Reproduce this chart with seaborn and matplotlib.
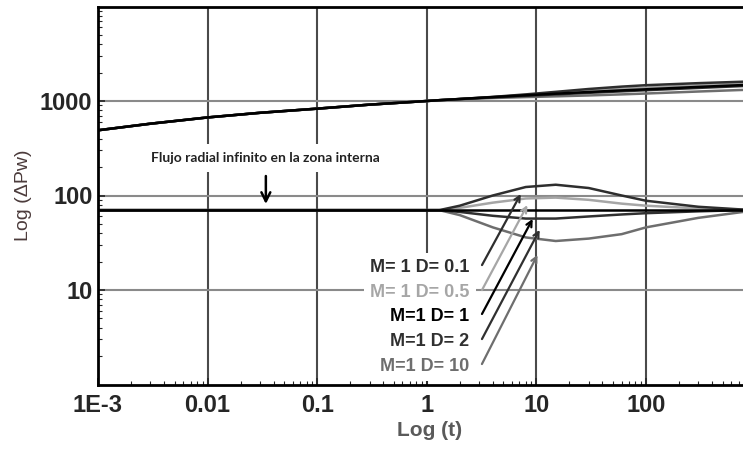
import numpy as np
import pandas as pd
import matplotlib
matplotlib.use("Agg")
import matplotlib.pyplot as plt
import seaborn as sns

# ---- data ----
labels = ["M= 1 D= 0.1", "M= 1 D= 0.5", "M=1 D= 1", "M=1 D= 2", "M=1 D= 10"]
colors = ["#2e2e2e", "#a6a6a6", "#000000", "#303030", "#6e6e6e"]

# pressure (shared early-time part)
t_early = [0.001, 0.003, 0.01, 0.03, 0.1, 0.3, 1.0]
p_early = [490, 575, 670, 750, 830, 915, 1000]

# late-time part, one curve per case
t_late = [1.3, 2, 4, 8, 15, 30, 60, 100, 300, 767]
p_late = [
    [1020, 1050, 1105, 1175, 1250, 1340, 1420, 1470, 1545, 1600],
    [1020, 1050, 1100, 1160, 1220, 1290, 1350, 1390, 1470, 1530],
    [1020, 1050, 1100, 1150, 1195, 1245, 1295, 1330, 1410, 1475],
    [1020, 1048, 1092, 1135, 1175, 1220, 1265, 1300, 1375, 1440],
    [1020, 1045, 1075, 1100, 1120, 1145, 1175, 1200, 1260, 1310],
]

# derivative (flat radial flow then deviation)
t_flat = [0.001, 1.3]
d_flat = [70, 70]
d_late = [
    [70, 78, 100, 123, 130, 120, 100, 88, 76, 71],
    [70, 74, 84, 93, 95, 90, 82, 78, 73, 71],
    [70, 70, 70, 70, 70, 70, 70, 70, 70, 70],
    [70, 67, 61, 57, 57, 60, 63, 65, 68, 70],
    [70, 62, 46, 36, 33, 35, 39, 46, 58, 67],
]

rows = []
for lab, pl, dl in zip(labels, p_late, d_late):
    for t, p in zip(t_early + t_late, p_early + pl):
        rows.append({"t": t, "val": p, "case": lab, "kind": "p"})
    for t, d in zip(t_flat + t_late[1:], d_flat + dl[1:]):
        rows.append({"t": t, "val": d, "case": lab, "kind": "d"})
df = pd.DataFrame(rows)

sns.set_style("white")
plt.rcParams["font.family"] = ["Liberation Sans", "DejaVu Sans"]

fig = plt.figure(figsize=(7.43, 4.51), dpi=100)
ax = fig.add_axes([98 / 743, 1 - 384.5 / 451, 1 - 98 / 743, 378 / 451])

pal = dict(zip(labels, colors))
order = [1, 4, 3, 0, 2]  # draw black last
for i in order:
    lab = labels[i]
    for kind in ["p", "d"]:
        sub = df[(df["case"] == lab) & (df["kind"] == kind)]
        sns.lineplot(data=sub, x="t", y="val", color=pal[lab], lw=1.8, ax=ax,
                     legend=False, sort=False)

ax.set_xscale("log")
ax.set_yscale("log")
ax.set_xlim(1e-3, 767)
ax.set_ylim(1, 10000)

# grid only at decades
for x in [0.01, 0.1, 1, 10, 100]:
    ax.axvline(x, color="#4a4a4a", lw=1.5, zorder=0)
for y in [10, 100, 1000]:
    ax.axhline(y, color="#8a8a8a", lw=1.5, zorder=0)

ax.set_xticks([0.001, 0.01, 0.1, 1, 10, 100])
ax.set_xticklabels(["1E-3", "0.01", "0.1", "1", "10", "100"])
ax.set_yticks([10, 100, 1000])
ax.set_yticklabels(["10", "100", "1000"])
ax.tick_params(axis="both", which="major", direction="in", length=5, width=1.2,
               labelsize=17)
ax.tick_params(axis="x", which="major", pad=7)
ax.tick_params(axis="y", which="major", pad=4)
ax.tick_params(axis="both", which="minor", direction="in", length=3, width=0.8)
for lbl in ax.get_xticklabels() + ax.get_yticklabels():
    lbl.set_fontweight("bold")
ax.tick_params(axis="y", which="both", left=True)
ax.tick_params(axis="x", which="both", bottom=True)

for s in ["left", "bottom", "top"]:
    ax.spines[s].set_color("black")
    ax.spines[s].set_linewidth(2)
ax.spines["right"].set_visible(False)

ax.set_xlabel("Log (t)", fontsize=15, fontweight="bold", color="#5a5a5a",
              family=["Liberation Sans Narrow", "Liberation Sans", "DejaVu Sans"])
ax.xaxis.set_label_coords((430 - 98) / 645, (384.5 - 421) / 378)
ax.set_ylabel("Log (\u0394Pw)", fontsize=14, color="#4b3b3b")
ax.yaxis.set_label_coords((32 - 98) / 645, 0.5)

# annotation for radial flow
ax.text(0.034, 250, "Flujo radial infinito en la zona interna", ha="center",
        va="center", fontsize=10, fontweight="bold", family=["Lato", "DejaVu Sans"],
        color="#222222", zorder=5,
        bbox=dict(boxstyle="square,pad=0.6", fc="white", ec="none"))
ax.annotate("", xy=(0.034, 76), xytext=(0.034, 172),
            arrowprops=dict(arrowstyle="->", color="black", lw=1.8, mutation_scale=16))

# case labels with arrows
tails = [(3.1, 17.3), (3.1, 9.4), (3.1, 5.25), (3.1, 2.85), (3.1, 1.55)]
heads = [(7.4, 110), (8.5, 84), (9.5, 60), (11, 46), (10.5, 25)]
for lab, c, (tx, ty), (hx, hy) in zip(labels, colors, tails, heads):
    ax.text(2.45, ty, lab, ha="right", va="center", fontsize=13,
            fontweight="bold", color=c, zorder=5,
            bbox=dict(boxstyle="square,pad=0.35", fc="white", ec="none"))
    ax.annotate("", xy=(hx, hy), xytext=(tx, ty),
                arrowprops=dict(arrowstyle="->", color=c, lw=1.6, mutation_scale=10))

fig.savefig("out.png", dpi=100)
